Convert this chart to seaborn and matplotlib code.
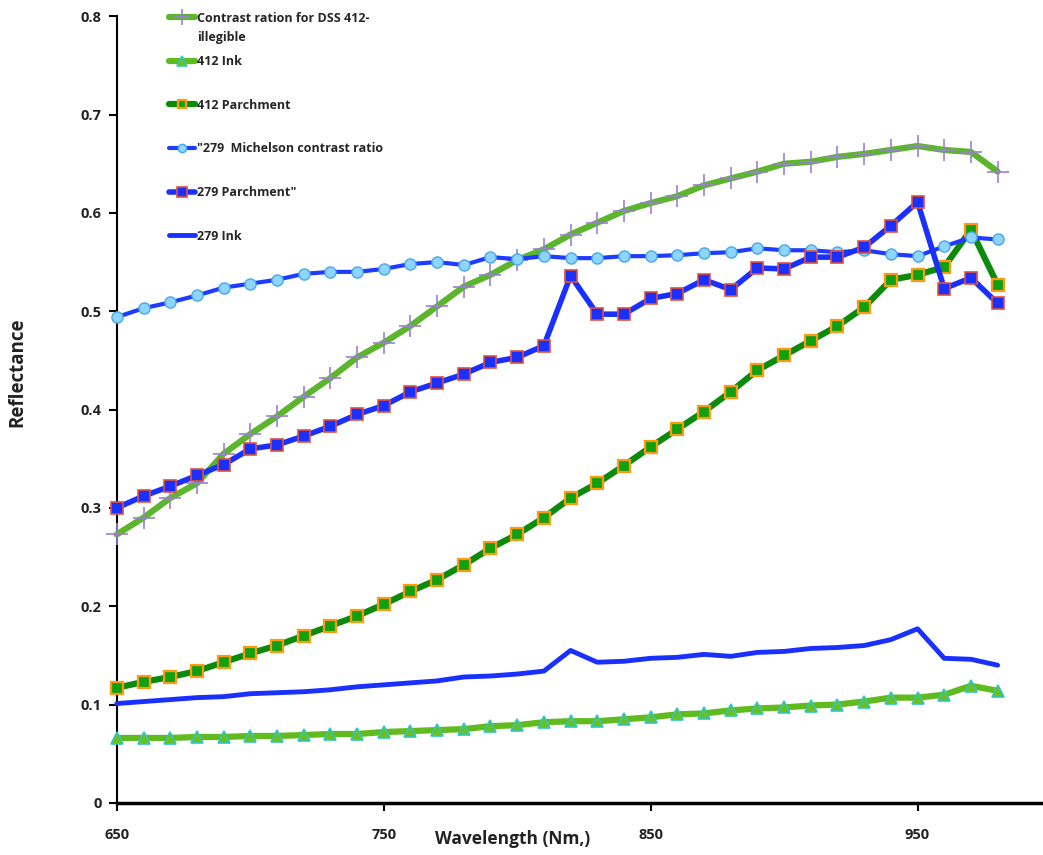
import matplotlib
matplotlib.use("Agg")
import matplotlib.pyplot as plt
import seaborn as sns

wavelength = [650, 660, 670, 680, 690, 700, 710, 720, 730, 740, 750, 760, 770, 780, 790, 800, 810,
              820, 830, 840, 850, 860, 870, 880, 890, 900, 910, 920, 930, 940, 950, 960, 970, 980]

contrast_412 = [0.273, 0.290, 0.310, 0.325, 0.355, 0.375, 0.393, 0.413, 0.432, 0.453, 0.468, 0.485,
                0.505, 0.525, 0.537, 0.552, 0.563, 0.578, 0.590, 0.602, 0.610, 0.617, 0.628, 0.635,
                0.642, 0.650, 0.652, 0.657, 0.660, 0.664, 0.668, 0.664, 0.662, 0.642]
ink_412 = [0.066, 0.066, 0.066, 0.067, 0.067, 0.068, 0.068, 0.069, 0.070, 0.070, 0.072, 0.073,
           0.074, 0.075, 0.078, 0.079, 0.082, 0.083, 0.083, 0.085, 0.087, 0.090, 0.091, 0.094,
           0.096, 0.097, 0.099, 0.100, 0.103, 0.107, 0.107, 0.110, 0.119, 0.114]
parch_412 = [0.117, 0.123, 0.128, 0.134, 0.143, 0.152, 0.160, 0.170, 0.180, 0.190, 0.202, 0.215,
             0.227, 0.242, 0.259, 0.273, 0.290, 0.310, 0.325, 0.343, 0.362, 0.380, 0.398, 0.418,
             0.440, 0.455, 0.470, 0.485, 0.504, 0.532, 0.537, 0.545, 0.583, 0.527]
michelson_279 = [0.494, 0.503, 0.509, 0.516, 0.524, 0.528, 0.532, 0.538, 0.540, 0.540, 0.543, 0.548,
                 0.550, 0.547, 0.555, 0.553, 0.556, 0.554, 0.554, 0.556, 0.556, 0.557, 0.559, 0.560,
                 0.564, 0.562, 0.562, 0.560, 0.562, 0.558, 0.556, 0.566, 0.575, 0.573]
parch_279 = [0.300, 0.312, 0.322, 0.333, 0.344, 0.360, 0.364, 0.373, 0.383, 0.395, 0.404, 0.418,
             0.427, 0.436, 0.448, 0.453, 0.465, 0.536, 0.497, 0.497, 0.513, 0.518, 0.532, 0.522,
             0.544, 0.543, 0.555, 0.555, 0.565, 0.587, 0.611, 0.523, 0.534, 0.508]
ink_279 = [0.101, 0.103, 0.105, 0.107, 0.108, 0.111, 0.112, 0.113, 0.115, 0.118, 0.120, 0.122,
           0.124, 0.128, 0.129, 0.131, 0.134, 0.155, 0.143, 0.144, 0.147, 0.148, 0.151, 0.149,
           0.153, 0.154, 0.157, 0.158, 0.160, 0.166, 0.177, 0.147, 0.146, 0.140]

labels = ["Contrast ration for DSS 412-", "412 Ink", "412 Parchment",
          "\"279  Michelson contrast ratio", "279 Parchment\"", "279 Ink"]
label_wrap = "illegible"
x_ticks = [650, 750, 850, 950]
y_ticks = [0, 0.1, 0.2, 0.3, 0.4, 0.5, 0.6, 0.7, 0.8]
y_ticklabels = ["0", "0.1", "0.2", "0.3", "0.4", "0.5", "0.6", "0.7", "0.8"]

sns.set_style("white")
plt.rcParams['font.family'] = ['Open Sans', 'DejaVu Sans']

fig = plt.figure(figsize=(10.43, 8.55), dpi=100)
ax = fig.add_axes([0.112, 0.061, 0.888, 0.920])

styles = [
    dict(data=contrast_412, color="#5cb52c", lw=4.5, marker="+", ms=16, mfc="#9b7fd6", mec="#9b7fd6", mew=1.2),
    dict(data=ink_412, color="#62bb1e", lw=4.5, marker="^", ms=9, mfc="#6cbf1c", mec="#2fc7c0", mew=1.2),
    dict(data=parch_412, color="#0b8a0b", lw=4.5, marker="s", ms=8, mfc="#10a010", mec="#ff9a10", mew=1.6),
    dict(data=michelson_279, color="#1e3cff", lw=3, marker="o", ms=8, mfc="#8dd4ff", mec="#4aa8e8", mew=1.0),
    dict(data=parch_279, color="#1a30ff", lw=4, marker="s", ms=9, mfc="#1a30ff", mec="#e0503a", mew=1.2),
    dict(data=ink_279, color="#1a30ff", lw=3.5, marker=None, ms=0, mfc="none", mec="none", mew=0),
]

for lab, st in zip(labels, styles):
    sns.lineplot(x=wavelength, y=st["data"], ax=ax, color=st["color"], linewidth=st["lw"],
                 marker=st["marker"], markersize=st["ms"], markerfacecolor=st["mfc"],
                 markeredgecolor=st["mec"], markeredgewidth=st["mew"], label=lab,
                 clip_on=False, zorder=3)

ax.set_xlim(650, 997)
ax.set_ylim(0, 0.8)
ax.set_xticks(x_ticks)
ax.set_xticklabels([str(v) for v in x_ticks])
ax.set_yticks(y_ticks)
ax.set_yticklabels(y_ticklabels)

for s in ["top", "right"]:
    ax.spines[s].set_visible(False)
for s in ["left", "bottom"]:
    ax.spines[s].set_color("black")
    ax.spines[s].set_linewidth(1.5)
ax.spines["bottom"].set_linewidth(2.5)

ax.tick_params(axis="both", direction="out", length=6, width=1.5, color="black",
               labelsize=10.5, labelcolor="#222222", bottom=True, left=True)
ax.tick_params(axis="x", pad=12)
ax.tick_params(axis="y", pad=5)
for t in ax.get_xticklabels() + ax.get_yticklabels():
    t.set_fontweight("bold")

ax.set_xlabel("Wavelength (Nm,)", fontsize=12.5, fontweight="bold", color="#222222")
ax.xaxis.set_label_coords(0.427, -0.046)
ax.xaxis.label.set_va("center")
ax.set_ylabel("Reflectance", fontsize=13.5, fontweight="bold", color="#222222")
ax.yaxis.set_label_coords(-0.107, 0.547)
ax.yaxis.label.set_va("center")

leg = ax.legend(loc="upper left", bbox_to_anchor=(0.056, 1.006), frameon=False,
                prop={"size": 9, "weight": "bold"}, labelspacing=2.45, markerscale=0.75,
                handlelength=2.1, handletextpad=0.15, borderaxespad=0, borderpad=0)

fig.canvas.draw()
bb = leg.get_texts()[0].get_window_extent()
fig.text(bb.x0 / fig.bbox.width, (bb.y0 - 19) / fig.bbox.height, label_wrap,
         fontsize=9, fontweight="bold", color=leg.get_texts()[0].get_color(),
         ha="left", va="bottom")

fig.savefig("out.png", dpi=100)
